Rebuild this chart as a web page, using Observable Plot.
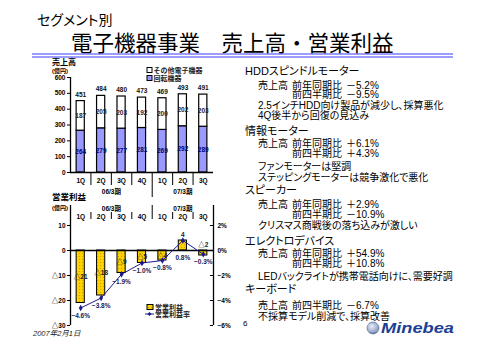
<!DOCTYPE html>
<html><head><meta charset="utf-8">
<script src="https://cdn.jsdelivr.net/npm/d3@7"></script>
<script src="https://cdn.jsdelivr.net/npm/@observablehq/plot@0.6"></script>
<style>
html,body{margin:0;padding:0;background:#fff;}
#root{position:relative;width:480px;height:340px;overflow:hidden;}
#root > svg, #root > div{position:absolute;left:0;top:0;}
</style></head>
<body><div id="root"></div>
<script>
// ---------- data ----------
const quarters = ["1Q","2Q","3Q","4Q","1Q","2Q","3Q"];
const periods = ["06/3期","07/3期"];
const periodStart = [0, 4];
const periodEnd = [4, 7];
const rotating = [264,279,277,281,269,292,289];      // 回転機器
const otherElec = [187,205,203,192,200,202,203];     // その他電子機器
const totals = [451,484,480,473,469,493,491];
const opIncome = [-21,-18,-9,-5,-4,4,-2];            // 営業利益 (億円)
const opMargin = [-4.6,-3.8,-1.9,-1.0,-0.8,0.8,-0.3];// 営業利益率 (%)
const salesTicks = [0,100,200,300,400,500,600];
const incomeTicks = [10,0,-10,-20,-30];
const marginTicks = [2,0,-2,-4,-6];
const seriesNames = ["その他電子機器","回転機器"];
const incomeLegend = ["営業利益","営業利益率"];
const notes = [
 ["h","HDDスピンドルモーター"],
 ["v","売上高","前年同期比","－5.2%"],
 ["v","","前四半期比","－9.5%"],
 ["d","2.5インチHDD向け製品が減少し、採算悪化"],
 ["d","4Q後半から回復の見込み"],
 ["h","情報モーター"],
 ["v","売上高","前年同期比","＋6.1%"],
 ["v","","前四半期比","＋4.3%"],
 ["d","ファンモーターは堅調"],
 ["d","ステッピングモーターは競争激化で悪化"],
 ["h","スピーカー"],
 ["v","売上高","前年同期比","＋2.9%"],
 ["v","","前四半期比","－10.9%"],
 ["d","クリスマス商戦後の落ち込みが激しい"],
 ["h","エレクトロデバイス"],
 ["v","売上高","前年同期比","＋54.9%"],
 ["v","","前四半期比","＋10.8%"],
 ["d","LEDバックライトが携帯電話向けに、需要好調"],
 ["h","キーボード"],
 ["v","売上高","前四半期比","－6.7%"],
 ["d","不採算モデル削減で、採算改善"]
];

// ---------- layout ----------
const FONT = '"Liberation Sans","Noto Sans CJK JP",sans-serif';
const noteY = [71,85,94.5,105,115,131,143,153,166,177,190.5,204,214,225,241,253,263,276,289.5,305,316];
const NAVY = "#1a1a8c";
const root = document.getElementById("root");
const NS = "http://www.w3.org/2000/svg";

const bg = document.createElementNS(NS, "svg");
bg.setAttribute("width", 480); bg.setAttribute("height", 340);
bg.style.fontFamily = FONT;
root.appendChild(bg);
const defs = document.createElementNS(NS, "defs");
defs.innerHTML = '<pattern id="dots" width="3" height="3" patternUnits="userSpaceOnUse"><rect width="3" height="3" fill="#ffd200"/><rect x="1" y="1" width="1" height="1" fill="#c9a400"/></pattern>' +
  '<radialGradient id="globe" cx="0.4" cy="0.35" r="0.7"><stop offset="0" stop-color="#e6ecf7"/><stop offset="1" stop-color="#5d75a8"/></radialGradient>';
bg.appendChild(defs);

function txt(x, cy, size, s, opts = {}) {
  const t = document.createElementNS(NS, "text");
  t.setAttribute("x", x);
  t.setAttribute("y", cy + size * 0.36);
  t.setAttribute("font-size", size);
  if (opts.weight) t.setAttribute("font-weight", opts.weight);
  if (opts.style) t.setAttribute("font-style", opts.style);
  t.setAttribute("fill", opts.fill || "#000");
  if (opts.anchor) t.setAttribute("text-anchor", opts.anchor);
  if (opts.palt) t.style.fontFeatureSettings = '"palt"';
  if (opts.len) { t.setAttribute("textLength", opts.len); t.setAttribute("lengthAdjust", "spacingAndGlyphs"); }
  t.textContent = s;
  bg.appendChild(t);
  return t;
}
function el(name, attrs) {
  const e = document.createElementNS(NS, name);
  for (const k in attrs) e.setAttribute(k, attrs[k]);
  bg.appendChild(e);
  return e;
}

// header
txt(37, 20, 14, "セグメント別", {palt: true});
txt(71, 43, 21.5, "電子機器事業　売上高・営業利益");
el("line", {x1: 32, x2: 453, y1: 54, y2: 54, stroke: "#3a3aff", "stroke-width": 1});
el("line", {x1: 32, x2: 453, y1: 57, y2: 57, stroke: "#3a3aff", "stroke-width": 1});

// chart titles
txt(52, 62, 8, "売上高", {weight: "bold"});
txt(52, 70.5, 6, "(億円)", {weight: "bold"});
txt(52, 197, 8.5, "営業利益", {weight: "bold"});
txt(52, 208, 6, "(億円)", {weight: "bold"});

// top legend
el("rect", {x: 147, y: 67.5, width: 5, height: 5, fill: "#fff", stroke: "#000", "stroke-width": 1});
txt(153.5, 70, 7, seriesNames[0], {weight: "bold", fill: "#222"});
el("rect", {x: 147, y: 75.5, width: 5, height: 5, fill: "#9999ff", stroke: "#000", "stroke-width": 1});
txt(153.5, 78, 7, seriesNames[1], {weight: "bold", fill: "#222"});

// bottom legend
el("rect", {x: 147, y: 304.5, width: 6, height: 5, fill: "url(#dots)", stroke: "#000", "stroke-width": 1});
txt(155, 307, 7, incomeLegend[0], {weight: "bold", fill: "#222"});
el("line", {x1: 145, x2: 154, y1: 314, y2: 314, stroke: NAVY, "stroke-width": 1});
el("path", {d: "M149.5,312 L151.5,314 L149.5,316 L147.5,314 Z", fill: NAVY});
txt(155, 314, 7, incomeLegend[1], {weight: "bold", fill: "#222"});

// notes on the right
notes.forEach((n, i) => {
  const y = noteY[i];
  if (n[0] === "h") txt(245, y, 11, n[1], {palt: true});
  else if (n[0] === "d") txt(258, y, 10, n[1], {palt: true});
  else {
    if (n[1]) txt(258, y, 10, n[1], {palt: true});
    txt(292, y, 10, n[2], {palt: true});
    txt(346, y, 10, n[3]);
  }
});

// footer
txt(33, 333.5, 7.5, "2007年2月1日", {style: "italic", fill: "#222"});
txt(243, 323, 8, "6");
el("circle", {cx: 373, cy: 328, r: 6, fill: "url(#globe)", stroke: "#4a5f90", "stroke-width": 0.6});
for (const dy of [-3, -1, 1, 3]) el("line", {x1: 367.5, x2: 378.5, y1: 328 + dy, y2: 328 + dy, stroke: "#ffffff", "stroke-width": 0.5, opacity: 0.7});
txt(381, 328, 14, "Minebea", {weight: "bold", style: "italic", fill: "#1c3f94", len: 73});

// ---------- top chart: sales ----------
const rotRows = rotating.map((v, i) => ({i, y1: 0, y2: v, v}));
const othRows = otherElec.map((v, i) => ({i, y1: rotating[i], y2: rotating[i] + v, v}));
const pBounds = periodStart.slice(1);
const qBounds = d3.range(1, quarters.length).filter(i => !pBounds.includes(i));
const lab = {fontSize: 6.5, fontWeight: "bold"};

const topPlot = Plot.plot({
  width: 240, height: 145,
  marginLeft: 70, marginRight: 27, marginTop: 22, marginBottom: 28,
  style: {fontFamily: FONT, background: "transparent", overflow: "visible", color: "#000"},
  x: {type: "linear", domain: [0, quarters.length], axis: null},
  y: {domain: [0, 600], axis: null},
  marks: [
    Plot.axisY({ticks: salesTicks, tickSize: 3, tickPadding: 2, label: null, ...lab}),
    Plot.rectY(rotRows, {x1: d => d.i + 0.3, x2: d => d.i + 0.7, y1: "y1", y2: "y2", fill: "#9999ff", stroke: "#000", strokeWidth: 1.2}),
    Plot.rectY(othRows, {x1: d => d.i + 0.3, x2: d => d.i + 0.7, y1: "y1", y2: "y2", fill: "#ffffff", stroke: "#000", strokeWidth: 1.2}),
    Plot.text(rotRows, {x: d => d.i + 0.5, y: d => (d.y1 + d.y2) / 2, text: "v", fill: "#00006a", ...lab}),
    Plot.text(othRows, {x: d => d.i + 0.5, y: d => (d.y1 + d.y2) / 2, text: "v", fill: "#2a1a2a", ...lab}),
    Plot.text(totals, {x: (d, i) => i + 0.5, y: d => d, dy: -6.5, text: d => d, fill: "#111", ...lab}),
    Plot.ruleX([0], {stroke: "#000", strokeWidth: 1.3}),
    Plot.ruleY([0], {stroke: "#000", strokeWidth: 1.3}),
    Plot.ruleX(qBounds, {x: d => d, insetTop: 95, insetBottom: -13, stroke: "#000", strokeWidth: 1}),
    Plot.ruleX(pBounds, {x: d => d, insetTop: 95, insetBottom: -25, stroke: "#000", strokeWidth: 1}),
    Plot.text(quarters, {x: (d, i) => i + 0.5, y: () => 0, dy: 8, text: d => d, ...lab}),
    Plot.text(periods, {x: (d, i) => (periodStart[i] + periodEnd[i]) / 2, y: () => 0, dy: 19.5, text: d => d, ...lab})
  ]
});
const topWrap = document.createElement("div");
topWrap.style.top = "55px";
topWrap.appendChild(topPlot);
root.appendChild(topWrap);

// ---------- bottom chart: operating income ----------
const neg = v => v < 0 ? "△" + (-v) : String(v);
const pct = v => (v < 0 ? "−" + (-v).toFixed(1) : v.toFixed(1)) + "%";
const botPlot = Plot.plot({
  width: 240, height: 140,
  marginLeft: 70, marginRight: 27, marginTop: 10, marginBottom: 10,
  style: {fontFamily: FONT, background: "transparent", overflow: "visible", color: "#000"},
  x: {type: "linear", domain: [0, quarters.length], axis: null},
  y: {domain: [-30, 18], axis: null},
  marks: [
    Plot.axisY({anchor: "left", ticks: incomeTicks, tickFormat: neg, tickSize: 3, tickPadding: 2, label: null, ...lab}),
    Plot.axisY({anchor: "right", ticks: marginTicks.map(m => m * 5), tickFormat: v => (v === 0 ? "0" : (v < 0 ? "−" : "") + Math.abs(v / 5)) + "%", tickSize: 0, tickPadding: 4, label: null, ...lab}),
    Plot.ruleY(marginTicks.map(m => m * 5), {y: d => d, x1: () => quarters.length - 0.15, x2: () => quarters.length, stroke: "#000", strokeWidth: 1}),
    Plot.rectY(opIncome, {x1: (d, i) => i + 0.3, x2: (d, i) => i + 0.7, y1: () => 0, y2: d => d, fill: "url(#dots)", stroke: "#000", strokeWidth: 1}),
    Plot.ruleX([0, quarters.length], {x: d => d, stroke: "#000", strokeWidth: 1.3}),
    Plot.ruleY([0], {stroke: "#000", strokeWidth: 1.3}),
    Plot.ruleX(qBounds, {x: d => d, insetTop: 7, insetBottom: 106, stroke: "#000", strokeWidth: 1}),
    Plot.ruleX(pBounds, {x: d => d, insetTop: 0, insetBottom: 106, stroke: "#000", strokeWidth: 1}),
    Plot.text(quarters, {x: (d, i) => i + 0.5, y: () => 18, dy: 11, text: d => d, ...lab}),
    Plot.text(periods, {x: (d, i) => (periodStart[i] + periodEnd[i]) / 2, y: () => 18, dy: 3, text: d => d, ...lab}),
    Plot.text(opIncome, {filter: d => d < -3, x: (d, i) => i + 0.5, y: d => d / 2, text: neg, fill: "#222", ...lab}),
    Plot.text(opIncome, {filter: d => d >= -3, x: (d, i) => i + 0.5, y: d => Math.max(d, 0), dy: -6, text: neg, fill: "#222", ...lab}),
    Plot.line(opMargin, {x: (d, i) => i + 0.5, y: d => d * 5, stroke: NAVY, strokeWidth: 1}),
    Plot.dot(opMargin, {x: (d, i) => i + 0.5, y: d => d * 5, symbol: "diamond", r: 2, fill: NAVY, stroke: "none"}),
    Plot.text(opMargin, {x: (d, i) => i + 0.5, y: d => Math.min(d * 5, 0), dy: 7.5, text: pct, fill: "#1a1a50", ...lab})
  ]
});
const botWrap = document.createElement("div");
botWrap.style.top = "195px";
botWrap.appendChild(botPlot);
root.appendChild(botWrap);
</script>
</body></html>
